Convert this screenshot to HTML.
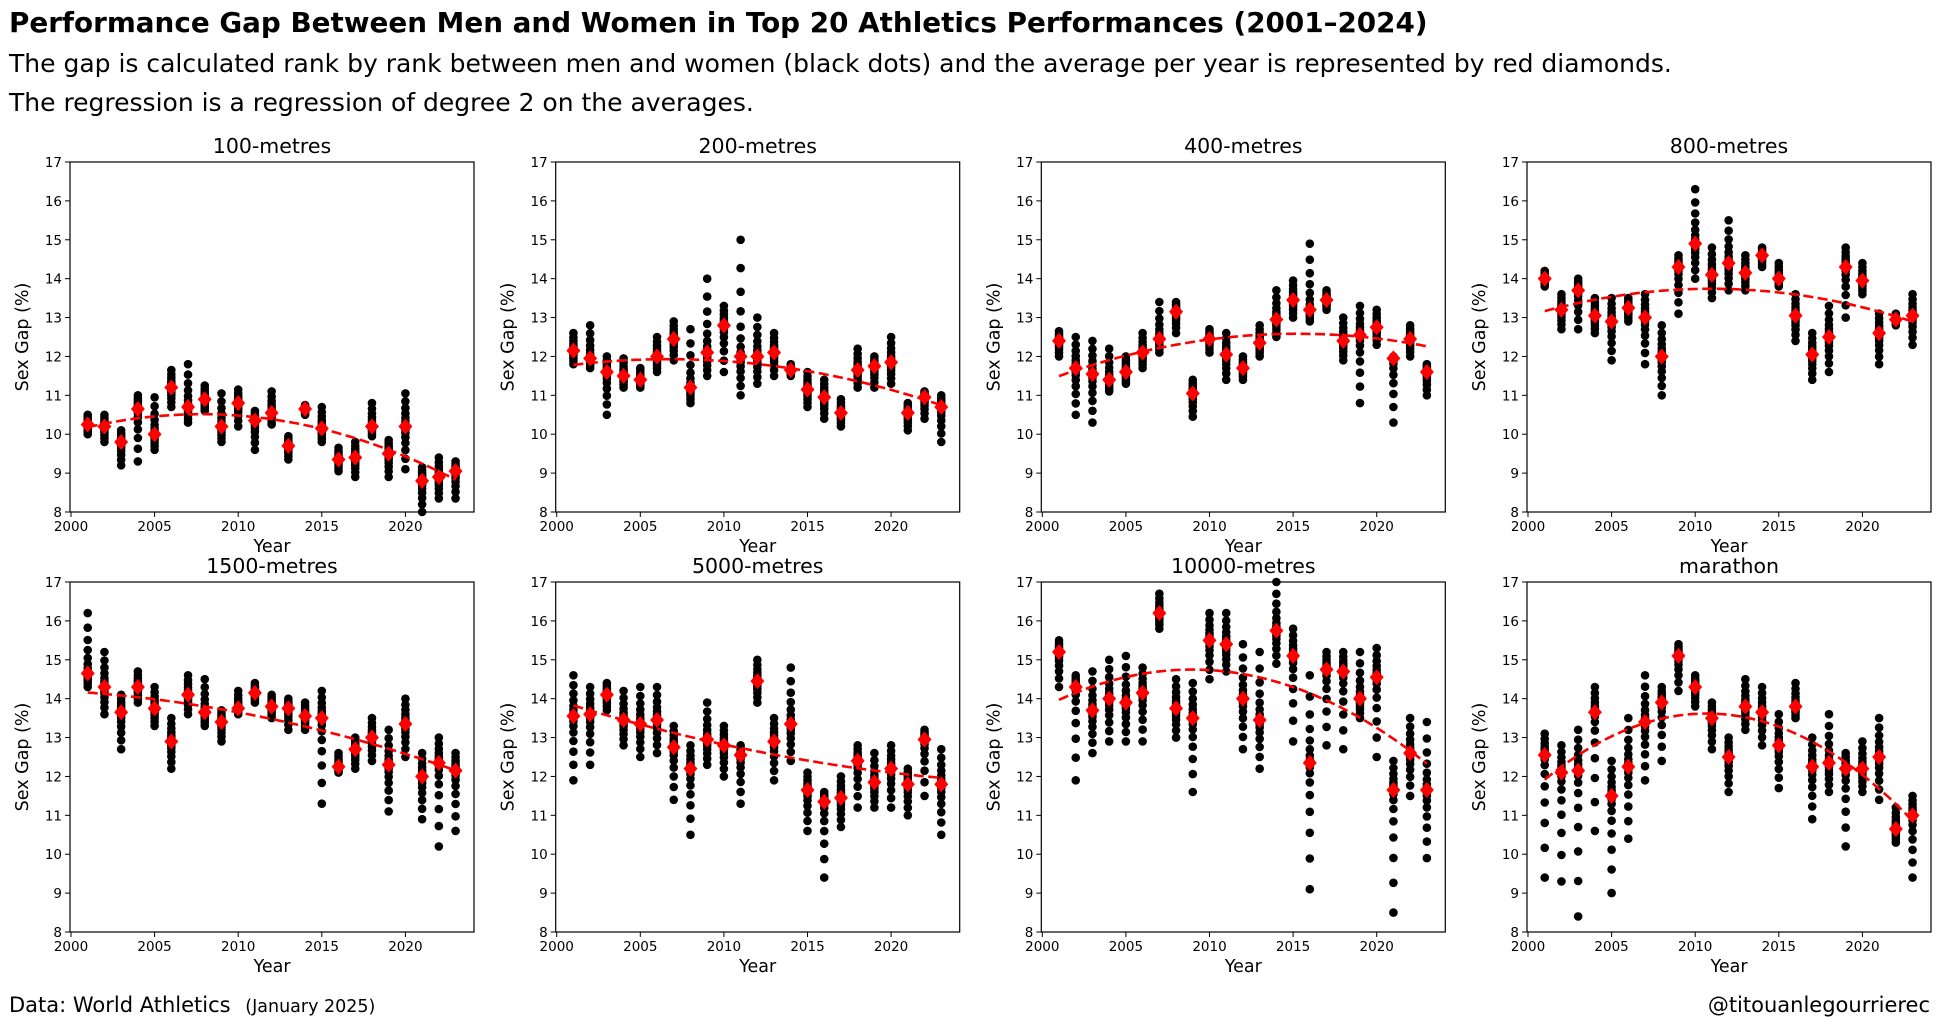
<!DOCTYPE html>
<html><head><meta charset="utf-8"><style>
html,body{margin:0;padding:0;background:#fff;}
svg{display:block;font-family:"DejaVu Sans","Liberation Sans",sans-serif;}
</style></head><body>
<svg id="s" width="1940" height="1026" viewBox="0 0 1940 1026" xmlns="http://www.w3.org/2000/svg">
<rect width="1940" height="1026" fill="#fff"/>
<text x="9" y="32" font-size="27.8" font-weight="bold">Performance Gap Between Men and Women in Top 20 Athletics Performances (2001–2024)</text>
<text x="9" y="72" font-size="25">The gap is calculated rank by rank between men and women (black dots) and the average per year is represented by red diamonds.</text>
<text x="9" y="111" font-size="25">The regression is a regression of degree 2 on the averages.</text>
<text x="9" y="1012" font-size="21">Data: World Athletics <tspan font-size="17.5" dx="8">(January 2025)</tspan></text>
<text x="1930" y="1012" font-size="21" text-anchor="end">@titouanlegourrierec</text>
<g id="g"></g>
</svg>
<script>
const P=[
["100-metres",[10.25,10.2,9.8,10.65,10.0,11.2,10.7,10.9,10.2,10.8,10.35,10.55,9.7,10.65,10.15,9.35,9.4,10.2,9.5,10.2,8.8,8.9,9.05],
[[10.0,10.5],[9.8,10.5],[9.2,10.1],[9.3,11.0],[9.6,10.95],[10.7,11.65],[10.3,11.8],[10.6,11.25],[9.8,11.05],[10.2,11.15],[9.6,10.6],[10.25,11.1],[9.35,9.95],[10.5,10.75],[9.8,10.7],[9.05,9.65],[8.9,9.8],[9.95,10.8],[8.9,9.85],[9.1,11.05],[8.0,9.15],[8.35,9.4],[8.35,9.3]]],
["200-metres",[12.15,11.95,11.6,11.5,11.4,12.0,12.45,11.2,12.1,12.8,12.0,12.0,12.1,11.65,11.15,10.95,10.55,11.65,11.75,11.85,10.55,10.95,10.7],
[[11.8,12.6],[11.7,12.8],[10.5,12.0],[11.2,11.95],[11.2,11.7],[11.6,12.5],[11.9,12.9],[10.8,12.7],[11.5,14.0],[11.6,13.3],[11.0,15.0],[11.3,13.0],[11.5,12.6],[11.5,11.8],[10.7,11.6],[10.4,11.4],[10.2,10.9],[11.2,12.2],[11.2,12.0],[11.3,12.5],[10.1,10.8],[10.4,11.1],[9.8,11.0]]],
["400-metres",[12.4,11.7,11.55,11.4,11.6,12.1,12.45,13.15,11.05,12.45,12.05,11.7,12.35,12.95,13.45,13.2,13.45,12.4,12.55,12.75,11.95,12.45,11.6],
[[12.0,12.65],[10.5,12.5],[10.3,12.4],[11.1,12.2],[11.3,12.0],[11.7,12.6],[12.1,13.4],[12.6,13.4],[10.45,11.4],[12.1,12.7],[11.4,12.6],[11.4,12.0],[12.0,12.8],[12.5,13.7],[13.0,13.95],[12.9,14.9],[13.2,13.7],[11.9,13.0],[10.8,13.3],[12.3,13.2],[10.3,12.0],[12.0,12.8],[11.0,11.8]]],
["800-metres",[14.0,13.2,13.7,13.05,12.9,13.25,13.0,12.0,14.3,14.9,14.1,14.4,14.15,14.6,14.0,13.05,12.05,12.5,14.3,13.95,12.6,12.95,13.05],
[[13.8,14.2],[12.7,13.6],[12.7,14.0],[12.6,13.5],[11.9,13.5],[12.9,13.5],[11.8,13.6],[11.0,12.8],[13.1,14.6],[14.0,16.3],[13.5,14.8],[13.7,15.5],[13.7,14.6],[14.3,14.8],[13.8,14.4],[12.4,13.6],[11.4,12.6],[11.6,13.3],[13.0,14.8],[13.6,14.4],[11.8,13.1],[12.8,13.1],[12.3,13.6]]],
["1500-metres",[14.65,14.3,13.65,14.3,13.75,12.9,14.1,13.65,13.4,13.75,14.15,13.8,13.75,13.55,13.5,12.25,12.7,13.0,12.3,13.35,12.0,12.35,12.15],
[[14.3,16.2],[13.6,15.2],[12.7,14.1],[13.9,14.7],[13.3,14.3],[12.2,13.5],[13.6,14.6],[13.3,14.5],[12.9,13.7],[13.6,14.2],[13.9,14.4],[13.5,14.1],[13.2,14.0],[13.2,13.9],[11.3,14.2],[12.1,12.6],[12.2,13.0],[12.4,13.5],[11.1,13.2],[12.5,14.0],[10.9,12.6],[10.2,13.0],[10.6,12.6]]],
["5000-metres",[13.55,13.6,14.1,13.45,13.35,13.45,12.75,12.2,12.95,12.8,12.55,14.45,12.9,13.35,11.65,11.35,11.45,12.4,11.85,12.2,11.8,12.95,11.8],
[[11.9,14.6],[12.3,14.3],[13.7,14.4],[12.8,14.2],[12.5,14.3],[12.6,14.3],[11.4,13.3],[10.5,12.8],[12.3,13.9],[12.0,13.3],[11.3,12.8],[13.9,15.0],[11.9,13.5],[12.4,14.8],[10.6,12.1],[9.4,11.6],[10.7,12.0],[11.2,12.8],[11.2,12.6],[11.2,12.8],[11.0,12.2],[11.5,13.2],[10.5,12.7]]],
["10000-metres",[15.2,14.3,13.7,14.0,13.9,14.15,16.2,13.75,13.5,15.5,15.4,14.0,13.45,15.75,15.1,12.35,14.75,14.7,14.0,14.55,11.65,12.6,11.65],
[[14.3,15.5],[11.9,14.6],[12.6,14.7],[12.9,15.0],[12.9,15.1],[12.9,14.8],[15.8,16.7],[13.0,14.5],[11.6,14.4],[14.5,16.2],[14.7,16.2],[12.7,15.4],[12.2,15.2],[14.9,17.0],[12.9,15.8],[9.1,14.6],[12.8,15.2],[12.7,15.2],[13.5,15.2],[12.5,15.3],[8.5,12.4],[11.5,13.5],[9.9,13.4]]],
["marathon",[12.55,12.1,12.15,13.65,11.5,12.25,13.4,13.9,15.1,14.3,13.5,12.5,13.8,13.65,12.8,13.8,12.25,12.35,12.2,12.2,12.5,10.65,11.0],
[[9.4,13.1],[9.3,12.8],[8.4,13.2],[10.6,14.3],[9.0,12.4],[10.4,13.5],[11.9,14.6],[12.4,14.3],[14.2,15.4],[13.8,14.6],[12.7,13.9],[11.6,13.0],[13.2,14.5],[12.8,14.3],[11.7,13.6],[13.5,14.4],[10.9,13.0],[11.6,13.6],[10.2,12.6],[11.6,12.9],[11.4,13.5],[10.3,11.2],[9.4,11.5]]]
];
const lefts=[70,555.7,1041.3,1527],tops=[162,582],W=404,H=350;
let h='';
function fit(m){let S=[0,0,0,0,0],T=[0,0,0];m.forEach((v,i)=>{let x=i-11;for(let k=0;k<5;k++)S[k]+=Math.pow(x,k);for(let k=0;k<3;k++)T[k]+=v*Math.pow(x,k);});
let A=[[S[0],S[1],S[2],T[0]],[S[1],S[2],S[3],T[1]],[S[2],S[3],S[4],T[2]]];
for(let i=0;i<3;i++){for(let j=i+1;j<3;j++){let f=A[j][i]/A[i][i];for(let k=i;k<4;k++)A[j][k]-=f*A[i][k];}}
let c=[0,0,0];for(let i=2;i>=0;i--){let s=A[i][3];for(let k=i+1;k<3;k++)s-=A[i][k]*c[k];c[i]=s/A[i][i];}return c;}
P.forEach((p,idx)=>{
 const L=lefts[idx%4],T=tops[Math.floor(idx/4)];
 const X=y=>L+1+(y-2000)*16.72, Y=v=>T+H-(v-8)*H/9;
 h+=`<text x="${L+W/2}" y="${T-9}" font-size="20.5" text-anchor="middle">${p[0]}</text>`;
 for(let t=8;t<=17;t++){let y=Y(t);h+=`<line x1="${L-5}" x2="${L}" y1="${y}" y2="${y}" stroke="#000"/><text x="${L-8}" y="${y+5}" font-size="13.5" text-anchor="end">${t}</text>`;}
 for(let t=2000;t<=2020;t+=5){let x=X(t);h+=`<line x1="${x}" x2="${x}" y1="${T+H}" y2="${T+H+5}" stroke="#000"/><text x="${x}" y="${T+H+19}" font-size="13.5" text-anchor="middle">${t}</text>`;}
 h+=`<text x="${L+W/2}" y="${T+H+40}" font-size="17.5" text-anchor="middle">Year</text>`;
 h+=`<text transform="translate(${L-42},${T+H/2}) rotate(-90)" font-size="17.5" text-anchor="middle">Sex Gap (%)</text>`;
 p[1].forEach((m,i)=>{const [lo,hi]=p[2][i];const x=X(2001+i);
  for(let k=0;k<20;k++){let u=k/19,v=u<0.5?m-(m-lo)*Math.pow(1-2*u,2.5):m+(hi-m)*Math.pow(2*u-1,2.5);h+=`<circle cx="${x}" cy="${Y(v).toFixed(1)}" r="4.3" fill="#000"/>`;}
 });
 const c=fit(p[1]);let d='';for(let s=0;s<=88;s++){let yr=2001+s*22/88,x=yr-2012,v=c[0]+c[1]*x+c[2]*x*x;d+=(s?'L':'M')+X(yr).toFixed(1)+','+Y(v).toFixed(1);}
 h+=`<path d="${d}" fill="none" stroke="#f00" stroke-width="2.6" stroke-dasharray="10,4.5"/>`;
 p[1].forEach((m,i)=>{const x=X(2001+i),y=Y(m);h+=`<path d="M${x-7},${y}L${x},${y-8}L${x+7},${y}L${x},${y+8}Z" fill="#f00"/>`;});
 h+=`<rect x="${L}" y="${T}" width="${W}" height="${H}" fill="none" stroke="#000" stroke-width="1.2"/>`;
});
document.getElementById('g').innerHTML=h;
</script>
</body></html>
